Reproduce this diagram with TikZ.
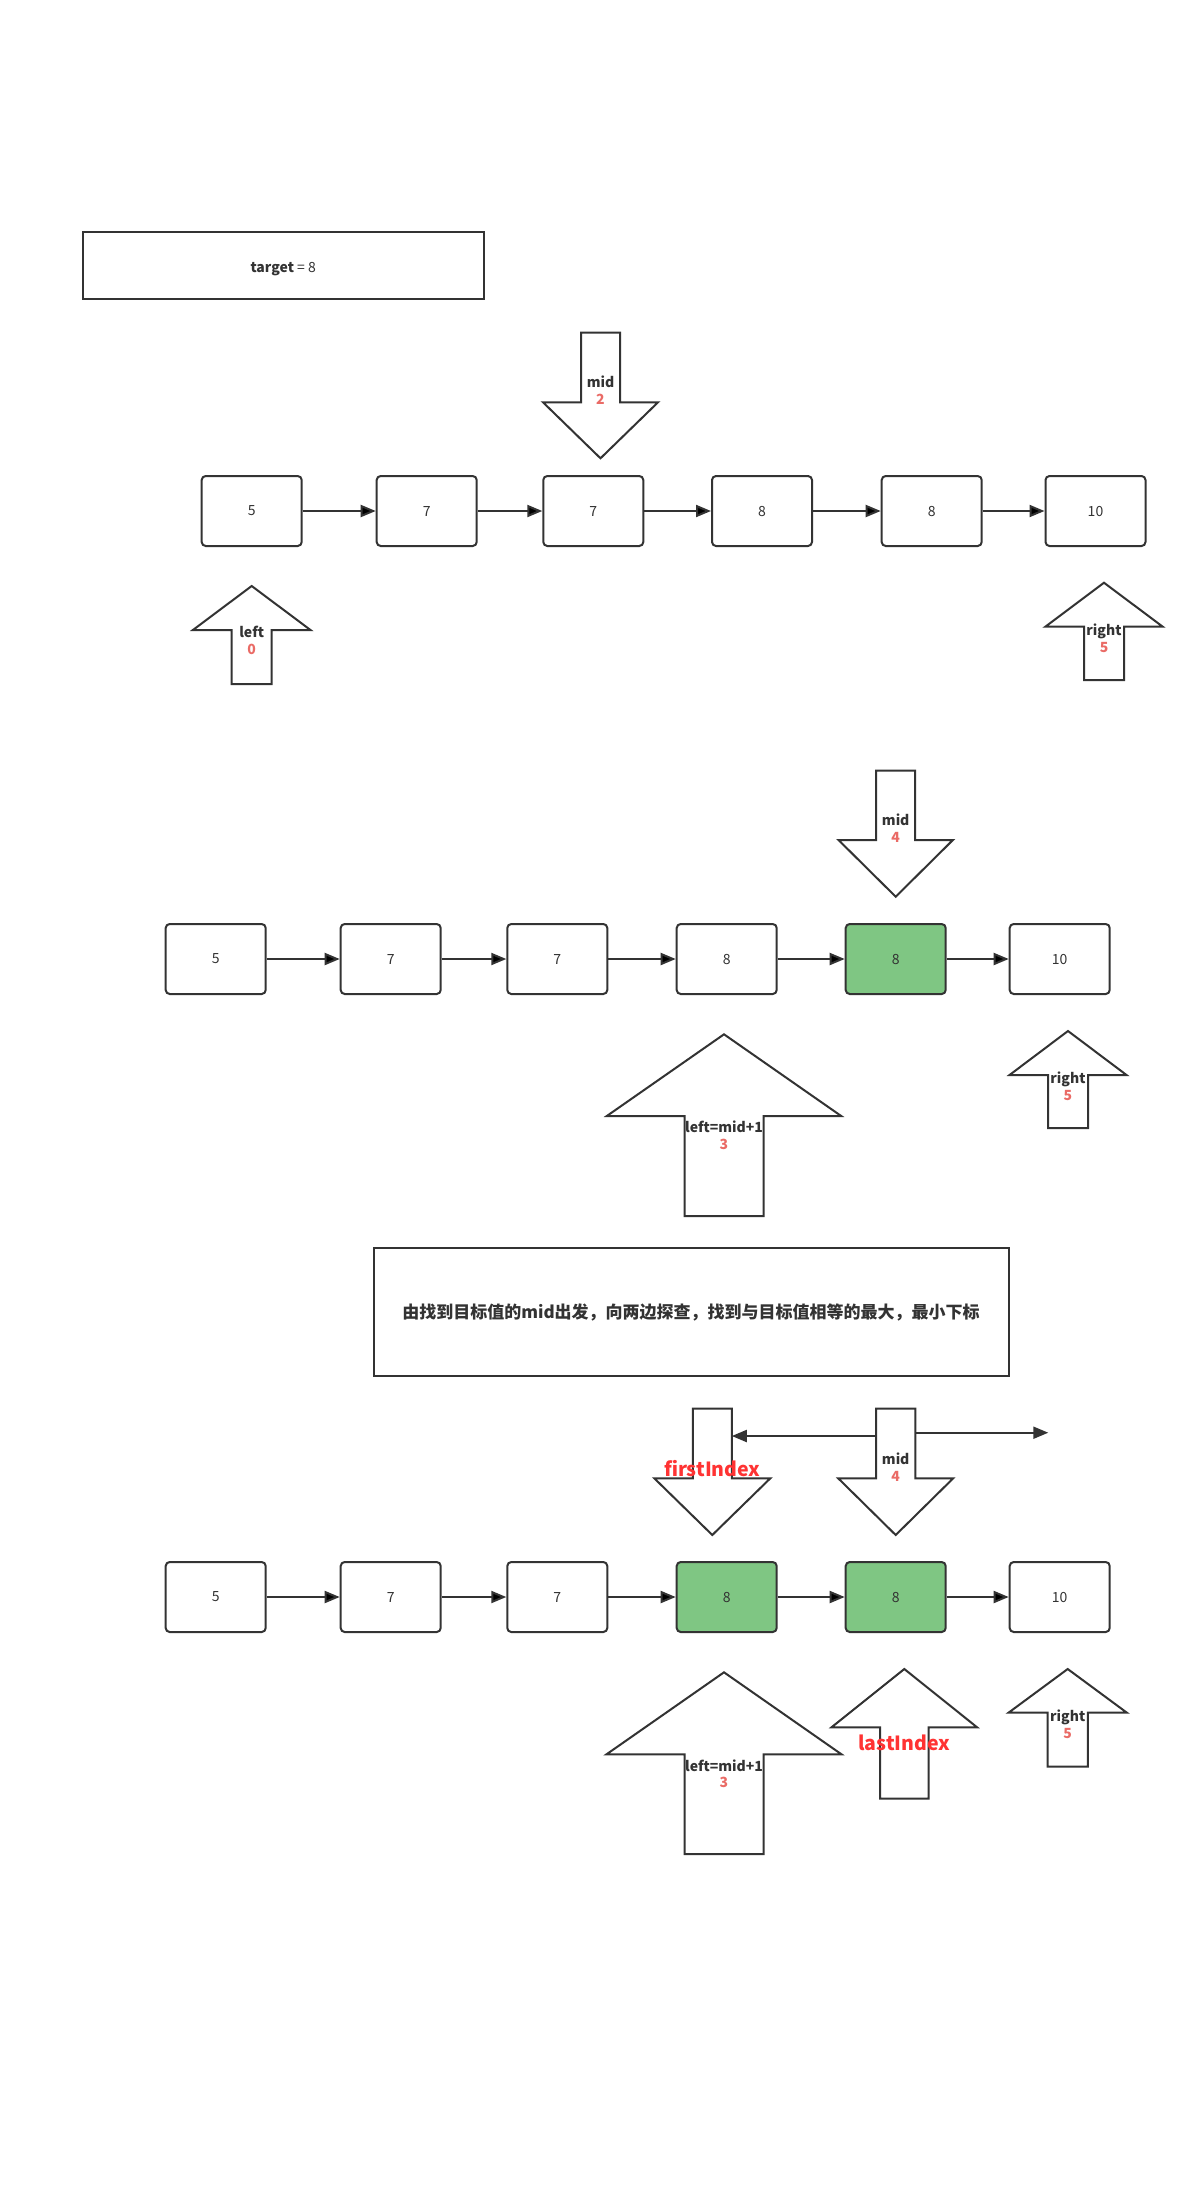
\documentclass[tikz,border=0pt]{standalone}
\usepackage{fontspec}
\setmainfont{Noto Sans CJK SC}
\usetikzlibrary{arrows.meta, positioning}

\definecolor{ink}{HTML}{333333}
\definecolor{numred}{HTML}{EA6B66}
\definecolor{hotred}{HTML}{FF3333}
\definecolor{found}{HTML}{7FC683}

% block arrow: name, x, tip y, shoulder y, end y, head half width, shaft half width
\newcommand{\blockarrow}[7]{%
  \draw[blk] (#2,#3) -- (#2+#6,#4) -- (#2+#7,#4) -- (#2+#7,#5) -- (#2-#7,#5)
    -- (#2-#7,#4) -- (#2-#6,#4) -- cycle;
  \coordinate (#1) at (#2,#4);
}

\tikzset{
  cell/.style={draw=ink, line width=2pt, rounded corners=4pt, minimum width=100pt,
    minimum height=70pt, fill=white, text=ink, font=\fontsize{14}{16}\selectfont},
  hit/.style={cell, fill=found},
  box/.style={draw=ink, line width=2pt, text=ink},
  link/.style={draw=ink, line width=2pt, -{Triangle[length=15pt,width=12pt]}},
  blk/.style={draw=ink, line width=2pt, fill=white, line join=miter},
  lbl/.style={inner sep=0pt, text=ink, text height=10.5pt, text depth=3pt,
    font=\bfseries\fontsize{14}{16}\selectfont},
  num/.style={inner sep=0pt, text=numred, text height=10.5pt, text depth=0pt,
    font=\bfseries\fontsize{14}{16}\selectfont},
  tag/.style={inner sep=0pt, text=hotred, font=\bfseries\fontsize{19.5}{22}\selectfont}
}

\begin{document}
\begin{tikzpicture}[x=1pt, y=-1pt]
    \useasboundingbox (0,0) rectangle (1187,2185);

    \node (target) [box, minimum width=401pt, minimum height=67pt, text height=15pt, text depth=0pt,
        font=\fontsize{14}{16}\selectfont] at (283.2,265.2) {\textbf{target} = 8};

    % first round
    \node (a1) [cell] at (251.7,511) {5};
    \node (a2) [cell] at (426.7,511) {7};
    \node (a3) [cell] at (593.3,511) {7};
    \node (a4) [cell] at (762,511) {8};
    \node (a5) [cell] at (931.7,511) {8};
    \node (a6) [cell] at (1095.5,511) {10};
    \path [link]
        (a1) edge (a2)
        (a2) edge (a3)
        (a3) edge (a4)
        (a4) edge (a5)
        (a5) edge (a6)
        ;
    \blockarrow{mid1}{600.5}{458.3}{402.3}{332.7}{57.5}{19.5}
    \node (lmid1) [lbl] at (600.5,384) {mid};
    \node [num, below=2.5pt of lmid1] {2};
    \blockarrow{left1}{251.7}{586}{630}{684}{58.8}{20}
    \node (lleft1) [lbl] at (251.7,634) {left};
    \node [num, below=2.5pt of lleft1] {0};
    \blockarrow{right1}{1104}{582.7}{626.7}{680}{58.7}{20}
    \node (lright1) [lbl] at (1104,632) {right};
    \node [num, below=2.5pt of lright1] {5};

    % second round
    \node (b1) [cell] at (215.7,959) {5};
    \node (b2) [cell] at (390.7,959) {7};
    \node (b3) [cell] at (557.3,959) {7};
    \node (b4) [cell] at (726.7,959) {8};
    \node (b5) [hit] at (895.7,959) {8};
    \node (b6) [cell] at (1059.7,959) {10};
    \path [link]
        (b1) edge (b2)
        (b2) edge (b3)
        (b3) edge (b4)
        (b4) edge (b5)
        (b5) edge (b6)
        ;
    \blockarrow{mid2}{895.7}{896.7}{840}{770.7}{57.2}{19.5}
    \node (lmid2) [lbl] at (895.7,822) {mid};
    \node [num, below=2.5pt of lmid2] {4};
    \blockarrow{left2}{724}{1034.3}{1116}{1216}{117.2}{39.5}
    \node (lleft2) [lbl] at (724,1129) {left=mid+1};
    \node [num, below=2.5pt of lleft2] {3};
    \blockarrow{right2}{1068}{1031}{1075}{1128}{58.5}{20}
    \node (lright2) [lbl] at (1068,1080) {right};
    \node [num, below=2.5pt of lright2] {5};

    \node (note) [box, minimum width=635pt, minimum height=128pt, font=\bfseries\fontsize{17}{20}\selectfont]
        at (691,1312) {由找到目标值的mid出发，向两边探查，找到与目标值相等的最大，最小下标};

    % third round
    \node (c1) [cell] at (215.7,1597) {5};
    \node (c2) [cell] at (390.7,1597) {7};
    \node (c3) [cell] at (557.3,1597) {7};
    \node (c4) [hit] at (726.7,1597) {8};
    \node (c5) [hit] at (895.7,1597) {8};
    \node (c6) [cell] at (1059.7,1597) {10};
    \path [link]
        (c1) edge (c2)
        (c2) edge (c3)
        (c3) edge (c4)
        (c4) edge (c5)
        (c5) edge (c6)
        ;
    \blockarrow{first3}{712.3}{1535}{1478.3}{1408.7}{58}{19.5}
    \blockarrow{mid3}{895.7}{1535}{1478.3}{1408.7}{57.5}{19.7}
    \node (lfirst3) [tag] at (712.3,1469) {firstIndex};
    \node (lmid3) [lbl] at (895.7,1461) {mid};
    \node [num, below=2.5pt of lmid3] {4};
    \coordinate (first3e) at (731.8,1436);
    \coordinate (mid3w) at (876,1436);
    \coordinate (mid3e) at (915.4,1432.7);
    \coordinate (far3) at (1048.3,1432.7);
    \draw [link] (mid3w) -- (first3e);
    \draw [link] (mid3e) -- (far3);
    \blockarrow{left3}{724}{1672.3}{1754.3}{1854}{117.5}{39.5}
    \node (lleft3) [lbl] at (724,1767.7) {left=mid+1};
    \node [num, below=2.5pt of lleft3] {3};
    \blockarrow{last3}{904.3}{1669}{1727.3}{1798.7}{72.8}{24.3}
    \node (llast3) [tag] at (904.3,1743.3) {lastIndex};
    \blockarrow{right3}{1067.7}{1669}{1712.7}{1766.7}{59.2}{20.2}
    \node (lright3) [lbl] at (1067.7,1718) {right};
    \node [num, below=2.5pt of lright3] {5};
\end{tikzpicture}
\end{document}
